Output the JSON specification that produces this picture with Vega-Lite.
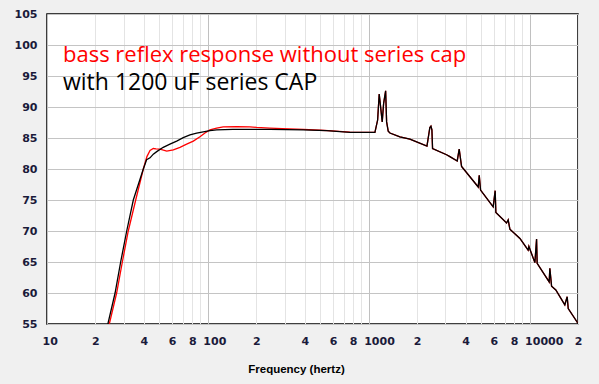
{
  "$schema": "https://vega.github.io/schema/vega-lite/v6.json",
  "width": 531,
  "height": 310,
  "autosize": {"type": "none"},
  "padding": {"left": 47, "top": 14, "right": 21, "bottom": 60},
  "background": "#f0f0f0",
  "config": {
    "view": {"fill": "white", "stroke": "black", "strokeWidth": 1.5},
    "axis": {"ticks": false, "tickSize": 0, "domain": false, "labelFont": "DejaVu Sans", "labelFontWeight": "bold", "labelFontSize": 11, "labelColor": "#1a1a3a"}
  },
  "datasets": {
    "curves": [
      {"s": "red", "f": 24.4, "db": 55}, {"s": "red", "f": 27.1, "db": 60}, {"s": "red", "f": 29.4, "db": 65}, {"s": "red", "f": 32.0, "db": 70}, {"s": "red", "f": 35.6, "db": 75}, {"s": "red", "f": 39.7, "db": 80}, {"s": "red", "f": 41.8, "db": 82}, {"s": "red", "f": 43.7, "db": 83}, {"s": "red", "f": 45.8, "db": 83.3}, {"s": "red", "f": 47.6, "db": 83.25}, {"s": "red", "f": 50.4, "db": 83.2}, {"s": "red", "f": 55.5, "db": 82.9}, {"s": "red", "f": 61.0, "db": 83.1}, {"s": "red", "f": 67.1, "db": 83.5}, {"s": "red", "f": 73.8, "db": 84.0}, {"s": "red", "f": 81.2, "db": 84.5}, {"s": "red", "f": 89.3, "db": 85.2}, {"s": "red", "f": 95.9, "db": 85.8}, {"s": "red", "f": 103, "db": 86.3}, {"s": "red", "f": 113.4, "db": 86.6}, {"s": "red", "f": 124.6, "db": 86.8}, {"s": "red", "f": 151, "db": 86.85}, {"s": "red", "f": 182.6, "db": 86.8}, {"s": "red", "f": 201, "db": 86.7}, {"s": "red", "f": 243, "db": 86.6}, {"s": "red", "f": 290, "db": 86.5}, {"s": "red", "f": 392, "db": 86.4}, {"s": "red", "f": 500, "db": 86.25}, {"s": "red", "f": 560, "db": 86.2}, {"s": "red", "f": 764, "db": 85.95}, {"s": "red", "f": 1093, "db": 85.9}, {"s": "red", "f": 1136, "db": 87.9}, {"s": "red", "f": 1162, "db": 92.1}, {"s": "red", "f": 1179, "db": 90.6}, {"s": "red", "f": 1213, "db": 87.6}, {"s": "red", "f": 1238, "db": 90.6}, {"s": "red", "f": 1274, "db": 92.6}, {"s": "red", "f": 1292, "db": 87.6}, {"s": "red", "f": 1322, "db": 86.1}, {"s": "red", "f": 1355, "db": 85.8}, {"s": "red", "f": 1563, "db": 85.2}, {"s": "red", "f": 1803, "db": 84.8}, {"s": "red", "f": 2302, "db": 83.7}, {"s": "red", "f": 2399, "db": 86.7}, {"s": "red", "f": 2436, "db": 86.9}, {"s": "red", "f": 2471, "db": 86.3}, {"s": "red", "f": 2494, "db": 83.3}, {"s": "red", "f": 3048, "db": 82.3}, {"s": "red", "f": 3196, "db": 82.0}, {"s": "red", "f": 3550, "db": 81.3}, {"s": "red", "f": 3651, "db": 83.2}, {"s": "red", "f": 3778, "db": 80.4}, {"s": "red", "f": 4795, "db": 77.1}, {"s": "red", "f": 4865, "db": 79.0}, {"s": "red", "f": 4958, "db": 76.6}, {"s": "red", "f": 5939, "db": 73.9}, {"s": "red", "f": 6111, "db": 76.5}, {"s": "red", "f": 6172, "db": 73.0}, {"s": "red", "f": 7190, "db": 71.3}, {"s": "red", "f": 7362, "db": 71.8}, {"s": "red", "f": 7544, "db": 70.3}, {"s": "red", "f": 8709, "db": 68.8}, {"s": "red", "f": 9797, "db": 66.9}, {"s": "red", "f": 9901, "db": 67.5}, {"s": "red", "f": 10790, "db": 64.9}, {"s": "red", "f": 11053, "db": 68.7}, {"s": "red", "f": 11145, "db": 64.8}, {"s": "red", "f": 13240, "db": 61.8}, {"s": "red", "f": 13366, "db": 64.0}, {"s": "red", "f": 13700, "db": 61.1}, {"s": "red", "f": 14560, "db": 60.5}, {"s": "red", "f": 16560, "db": 58.1}, {"s": "red", "f": 17130, "db": 59.4}, {"s": "red", "f": 17390, "db": 57.5}, {"s": "red", "f": 19870, "db": 55.2},
      {"s": "black", "f": 23.9, "db": 55}, {"s": "black", "f": 26.5, "db": 60}, {"s": "black", "f": 28.7, "db": 65}, {"s": "black", "f": 31.3, "db": 70}, {"s": "black", "f": 34.4, "db": 75}, {"s": "black", "f": 39.7, "db": 80}, {"s": "black", "f": 41.6, "db": 81.5}, {"s": "black", "f": 43.7, "db": 81.8}, {"s": "black", "f": 45.8, "db": 82.4}, {"s": "black", "f": 48.1, "db": 82.8}, {"s": "black", "f": 52.8, "db": 83.5}, {"s": "black", "f": 58.1, "db": 84.0}, {"s": "black", "f": 64.0, "db": 84.5}, {"s": "black", "f": 70.3, "db": 85.05}, {"s": "black", "f": 77.4, "db": 85.5}, {"s": "black", "f": 85.2, "db": 85.8}, {"s": "black", "f": 93.6, "db": 86.0}, {"s": "black", "f": 103, "db": 86.2}, {"s": "black", "f": 113.4, "db": 86.3}, {"s": "black", "f": 143, "db": 86.4}, {"s": "black", "f": 243, "db": 86.4}, {"s": "black", "f": 392, "db": 86.3}, {"s": "black", "f": 547, "db": 86.2}, {"s": "black", "f": 764, "db": 85.9}, {"s": "black", "f": 1093, "db": 85.9}, {"s": "black", "f": 1136, "db": 87.9}, {"s": "black", "f": 1162, "db": 92.1}, {"s": "black", "f": 1179, "db": 90.6}, {"s": "black", "f": 1213, "db": 87.6}, {"s": "black", "f": 1238, "db": 90.6}, {"s": "black", "f": 1274, "db": 92.6}, {"s": "black", "f": 1292, "db": 87.6}, {"s": "black", "f": 1322, "db": 86.1}, {"s": "black", "f": 1355, "db": 85.8}, {"s": "black", "f": 1563, "db": 85.2}, {"s": "black", "f": 1803, "db": 84.8}, {"s": "black", "f": 2302, "db": 83.7}, {"s": "black", "f": 2399, "db": 86.7}, {"s": "black", "f": 2436, "db": 86.9}, {"s": "black", "f": 2471, "db": 86.3}, {"s": "black", "f": 2494, "db": 83.3}, {"s": "black", "f": 3048, "db": 82.3}, {"s": "black", "f": 3196, "db": 82.0}, {"s": "black", "f": 3550, "db": 81.3}, {"s": "black", "f": 3651, "db": 83.2}, {"s": "black", "f": 3778, "db": 80.4}, {"s": "black", "f": 4795, "db": 77.1}, {"s": "black", "f": 4865, "db": 79.0}, {"s": "black", "f": 4958, "db": 76.6}, {"s": "black", "f": 5939, "db": 73.9}, {"s": "black", "f": 6111, "db": 76.5}, {"s": "black", "f": 6172, "db": 73.0}, {"s": "black", "f": 7190, "db": 71.3}, {"s": "black", "f": 7362, "db": 71.8}, {"s": "black", "f": 7544, "db": 70.3}, {"s": "black", "f": 8709, "db": 68.8}, {"s": "black", "f": 9797, "db": 66.9}, {"s": "black", "f": 9901, "db": 67.5}, {"s": "black", "f": 10790, "db": 64.9}, {"s": "black", "f": 11053, "db": 68.7}, {"s": "black", "f": 11145, "db": 64.8}, {"s": "black", "f": 13240, "db": 61.8}, {"s": "black", "f": 13366, "db": 64.0}, {"s": "black", "f": 13700, "db": 61.1}, {"s": "black", "f": 14560, "db": 60.5}, {"s": "black", "f": 16560, "db": 58.1}, {"s": "black", "f": 17130, "db": 59.4}, {"s": "black", "f": 17390, "db": 57.5}, {"s": "black", "f": 19870, "db": 55.2}
    ],
    "notes": [
      {"s": "red", "label": "bass reflex response without series cap", "f": 12.57, "db": 97.3},
      {"s": "black", "label": "with 1200 uF series CAP", "f": 12.57, "db": 92.74}
    ]
  },
  "encoding": {
    "x": {
      "field": "f", "type": "quantitative",
      "scale": {"type": "log", "domain": [10, 20000], "nice": false},
      "axis": {
        "title": "Frequency (hertz)",
        "titleFont": "Liberation Sans", "titleFontWeight": "bold", "titleFontSize": 11.5, "titleColor": "#000000",
        "titleX": 249, "titleY": 48, "titleAlign": "center", "titleBaseline": "alphabetic",
        "values": [10, 20, 30, 40, 50, 60, 70, 80, 90, 100, 200, 300, 400, 500, 600, 700, 800, 900, 1000, 2000, 3000, 4000, 5000, 6000, 7000, 8000, 9000, 10000, 20000],
        "labelExpr": "(datum.value == 10 || datum.value == 100 || datum.value == 1000 || datum.value == 10000) ? ('' + datum.value) : (indexof([2, 4, 6, 8], round(datum.value / pow(10, floor(log(datum.value) / LN10 + 0.000001)))) >= 0 ? ('' + round(datum.value / pow(10, floor(log(datum.value) / LN10 + 0.000001)))) : '')",
        "labelOverlap": false, "labelBound": false, "labelFlush": false,
        "labelBaseline": "alphabetic", "labelPadding": 20,
        "labelAlign": {"condition": {"test": "datum.value == 10 || datum.value == 100 || datum.value == 1000 || datum.value == 10000", "value": "left"}, "value": "center"},
        "labelOffset": {"condition": {"test": "datum.value == 10 || datum.value == 100 || datum.value == 1000 || datum.value == 10000", "value": -5}, "value": 0},
        "grid": true,
        "gridColor": {"condition": {"test": "datum.value == 10 || datum.value == 100 || datum.value == 1000 || datum.value == 10000", "value": "#c0c0c0"}, "value": "#e4e4e4"},
        "gridWidth": 1
      }
    },
    "y": {
      "field": "db", "type": "quantitative",
      "scale": {"domain": [55, 105], "nice": false, "zero": false},
      "axis": {"title": null, "values": [55, 60, 65, 70, 75, 80, 85, 90, 95, 100, 105], "labelPadding": 10, "grid": true, "gridColor": "#c4c4c4", "labelOverlap": false, "labelBound": false, "labelFlush": false}
    }
  },
  "layer": [
    {"data": {"name": "curves"}, "transform": [{"filter": "datum.s == 'red'"}], "mark": {"type": "line", "color": "#ff0000", "strokeWidth": 1.3, "clip": true}},
    {"data": {"name": "curves"}, "transform": [{"filter": "datum.s == 'black'"}], "mark": {"type": "line", "color": "#000000", "strokeWidth": 1.3, "clip": true}},
    {"data": {"name": "notes"}, "transform": [{"filter": "datum.s == 'red'"}], "mark": {"type": "text", "align": "left", "baseline": "alphabetic", "font": "Open Sans", "fontSize": 22, "color": "#ff0000"}, "encoding": {"text": {"field": "label"}}},
    {"data": {"name": "notes"}, "transform": [{"filter": "datum.s == 'black'"}], "mark": {"type": "text", "align": "left", "baseline": "alphabetic", "font": "Open Sans", "fontSize": 23, "color": "#000000"}, "encoding": {"text": {"field": "label"}}}
  ]
}
